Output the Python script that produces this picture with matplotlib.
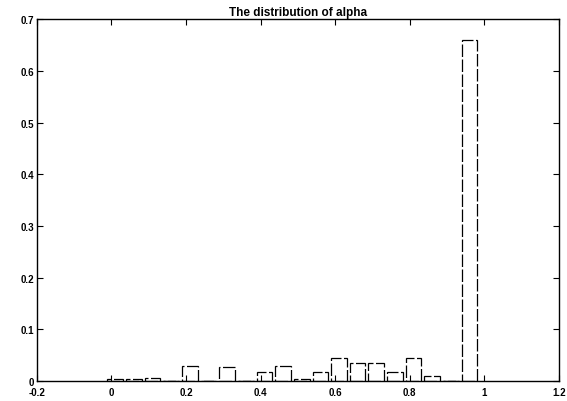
import numpy as np
import matplotlib.pyplot as plt

# bin centres of the histogram (20 bins) and relative frequencies
centers = [0.01, 0.06, 0.11, 0.16, 0.21, 0.26, 0.31, 0.36, 0.41, 0.46,
           0.51, 0.56, 0.61, 0.66, 0.71, 0.76, 0.81, 0.86, 0.91, 0.96]
freq = [0.003, 0.003, 0.006, 0.0, 0.029, 0.0, 0.027, 0.0, 0.017, 0.029,
        0.003, 0.017, 0.044, 0.035, 0.035, 0.017, 0.044, 0.010, 0.0, 0.660]

xticks = [-0.2, 0, 0.2, 0.4, 0.6, 0.8, 1, 1.2]
xlabels = ["-0.2", "0", "0.2", "0.4", "0.6", "0.8", "1", "1.2"]
yticks = [0, 0.1, 0.2, 0.3, 0.4, 0.5, 0.6, 0.7]
ylabels = ["0", "0.1", "0.2", "0.3", "0.4", "0.5", "0.6", "0.7"]

plt.rcParams["font.family"] = ["Liberation Sans", "DejaVu Sans"]

fig = plt.figure(figsize=(5.67, 4.02), dpi=100)
ax = fig.add_axes([0.065, 0.0498, 0.921, 0.9])

ax.bar(centers, freq, width=0.042, facecolor="white", edgecolor="black",
       linewidth=0.9, linestyle=(0, (10, 2)))

ax.set_xlim(-0.2, 1.2)
ax.set_ylim(0, 0.7)
ax.set_xticks(xticks)
ax.set_xticklabels(xlabels, fontsize=7, fontweight="bold")
ax.set_yticks(yticks)
ax.set_yticklabels(ylabels, fontsize=7, fontweight="bold")
ax.tick_params(direction="in", length=4, width=0.8, top=True, right=True, pad=2)
ax.tick_params(axis="x", pad=4)
for s in ax.spines.values():
    s.set_linewidth(1.0)

ax.set_title("The distribution of alpha", fontsize=8.5, fontweight="bold", pad=3)

fig.savefig("out.png", dpi=100)
plt.close(fig)
